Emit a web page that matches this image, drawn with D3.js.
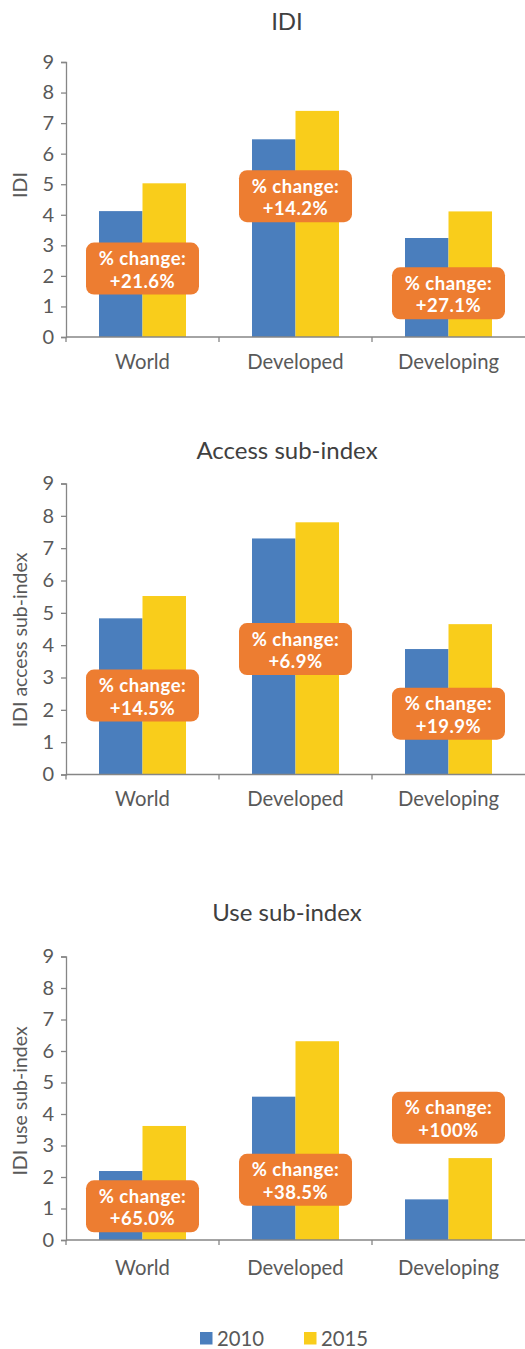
<!DOCTYPE html>
<html><head><meta charset="utf-8">
<script src="https://cdn.jsdelivr.net/npm/d3@7"></script>
<style>
html,body{margin:0;padding:0;background:#fff;}
svg{display:block;}
text{font-family:Lato,"Open Sans",sans-serif;}
</style></head>
<body>
<script>
// ---- data ----
const categories = ["World", "Developed", "Developing"];
const seriesNames = ["2010", "2015"];
const yTicks = [0, 1, 2, 3, 4, 5, 6, 7, 8, 9];

const chartTitles = ["IDI", "Access sub-index", "Use sub-index"];
const yTitles = ["IDI", "IDI access sub-index", "IDI use sub-index"];

const idi2010 = [4.12, 6.47, 3.24];
const idi2015 = [5.03, 7.40, 4.11];
const access2010 = [4.83, 7.30, 3.88];
const access2015 = [5.52, 7.80, 4.65];
const use2010 = [2.19, 4.55, 1.29];
const use2015 = [3.62, 6.31, 2.60];

const idiChange = ["+21.6%", "+14.2%", "+27.1%"];
const accessChange = ["+14.5%", "+6.9%", "+19.9%"];
const useChange = ["+65.0%", "+38.5%", "+100%"];
// vertical anchor (in axis units) of each "% change" callout
const idiCalloutAt = [2.24, 4.61, 1.43];
const accessCalloutAt = [2.44, 3.88, 1.88];
const useCalloutAt = [1.07, 1.91, 3.88];

// ---- styles / layout ----
const colors = {"2010": "#4a7ebd", "2015": "#f9cd1b"};
const calloutColor = "#ed7d31";
const axisColor = "#868686";
const labelColor = "#595959";

const W = 525, H = 1349;
const plotLeft = 66, plotRight = 525;
const panels = [
  {top: 62, bottom: 337, titleY: 29.5, catY: 368.5, yTitleY: 185,
   v2010: idi2010, v2015: idi2015, change: idiChange, at: idiCalloutAt},
  {top: 483.5, bottom: 774.5, titleY: 458.5, catY: 806, yTitleY: 640,
   v2010: access2010, v2015: access2015, change: accessChange, at: accessCalloutAt},
  {top: 956.5, bottom: 1240, titleY: 921, catY: 1275, yTitleY: 1101,
   v2010: use2010, v2015: use2015, change: useChange, at: useCalloutAt}
];

const svg = d3.select("body").append("svg").attr("width", W).attr("height", H);

const x0 = d3.scaleBand().domain(categories).range([plotLeft, plotRight]).padding(0);
const bw = x0.bandwidth();
const groupW = 87;
const x1 = d3.scaleBand().domain(seriesNames).range([bw / 2 - groupW / 2, bw / 2 + groupW / 2]).padding(0);

panels.forEach((p, i) => {
  const g = svg.append("g");
  const y = d3.scaleLinear().domain([0, 9]).range([p.bottom, p.top]);

  // title
  g.append("text").attr("x", 287).attr("y", p.titleY)
    .attr("text-anchor", "middle").attr("font-size", 24).attr("fill", "#404040")
    .text(chartTitles[i]);

  // y axis title
  g.append("text")
    .attr("transform", `translate(26.5,${p.yTitleY}) rotate(-90)`)
    .attr("text-anchor", "middle").attr("font-size", 19.5).attr("fill", labelColor)
    .text(yTitles[i]);

  // bars
  const rows = categories.map((c, k) => ({cat: c, vals: [
    {s: "2010", v: p.v2010[k]}, {s: "2015", v: p.v2015[k]}]}));
  const grp = g.selectAll("g.grp").data(rows).enter().append("g")
    .attr("transform", d => `translate(${x0(d.cat)},0)`);
  grp.selectAll("rect").data(d => d.vals).enter().append("rect")
    .attr("x", d => x1(d.s)).attr("width", x1.bandwidth())
    .attr("y", d => y(d.v)).attr("height", d => y(0) - y(d.v))
    .attr("fill", d => colors[d.s]);

  // y axis
  const ya = g.append("g").attr("transform", `translate(${plotLeft},0)`)
    .call(d3.axisLeft(y).tickValues(yTicks).tickSize(5).tickPadding(7).tickFormat(d3.format("d")));
  ya.select(".domain").attr("stroke", axisColor).attr("stroke-width", 1.3);
  ya.selectAll(".tick line").attr("stroke", axisColor).attr("stroke-width", 1.3);
  ya.selectAll(".tick text").attr("font-size", 20).attr("fill", labelColor)
    .attr("font-family", "Lato, 'Open Sans', sans-serif");

  // x axis
  const xa = g.append("g").attr("transform", `translate(0,${p.bottom})`);
  xa.append("line").attr("x1", plotLeft).attr("x2", plotRight).attr("y1", 0).attr("y2", 0)
    .attr("stroke", axisColor).attr("stroke-width", 1.3);
  xa.selectAll("line.tk").data(categories).enter().append("line")
    .attr("x1", d => x0(d)).attr("x2", d => x0(d)).attr("y1", 0).attr("y2", 5)
    .attr("stroke", axisColor).attr("stroke-width", 1.3);
  g.selectAll("text.cat").data(categories).enter().append("text")
    .attr("x", d => x0(d) + bw / 2).attr("y", p.catY)
    .attr("text-anchor", "middle").attr("font-size", 20.3).attr("fill", labelColor)
    .text(d => d);

  // callouts
  const bxW = 113, bxH = 52;
  const co = g.selectAll("g.co").data(categories.map((c, k) => ({cat: c, t: p.change[k], at: p.at[k]})))
    .enter().append("g")
    .attr("transform", d => `translate(${x0(d.cat) + bw / 2},${y(d.at)})`);
  co.append("rect").attr("x", -bxW / 2).attr("y", -bxH / 2).attr("width", bxW).attr("height", bxH)
    .attr("rx", 8).attr("ry", 8).attr("fill", calloutColor);
  const ct = co.append("text").attr("text-anchor", "middle")
    .attr("font-size", 18.5).attr("font-weight", "bold").attr("letter-spacing", 0.5).attr("fill", "#fff");
  ct.append("tspan").attr("x", 0).attr("y", -3.5).text("% change:");
  ct.append("tspan").attr("x", 0).attr("y", 19).text(d => d.t);
});

// legend
const leg = svg.append("g");
const legX = {"2010": 200, "2015": 304};
seriesNames.forEach(s => {
  leg.append("rect").attr("x", legX[s]).attr("y", 1332).attr("width", 12.5).attr("height", 12.5)
    .attr("fill", colors[s]);
  leg.append("text").attr("x", legX[s] + 17).attr("y", 1345.5)
    .attr("font-size", 20.3).attr("fill", labelColor).text(s);
});
</script>
</body></html>
